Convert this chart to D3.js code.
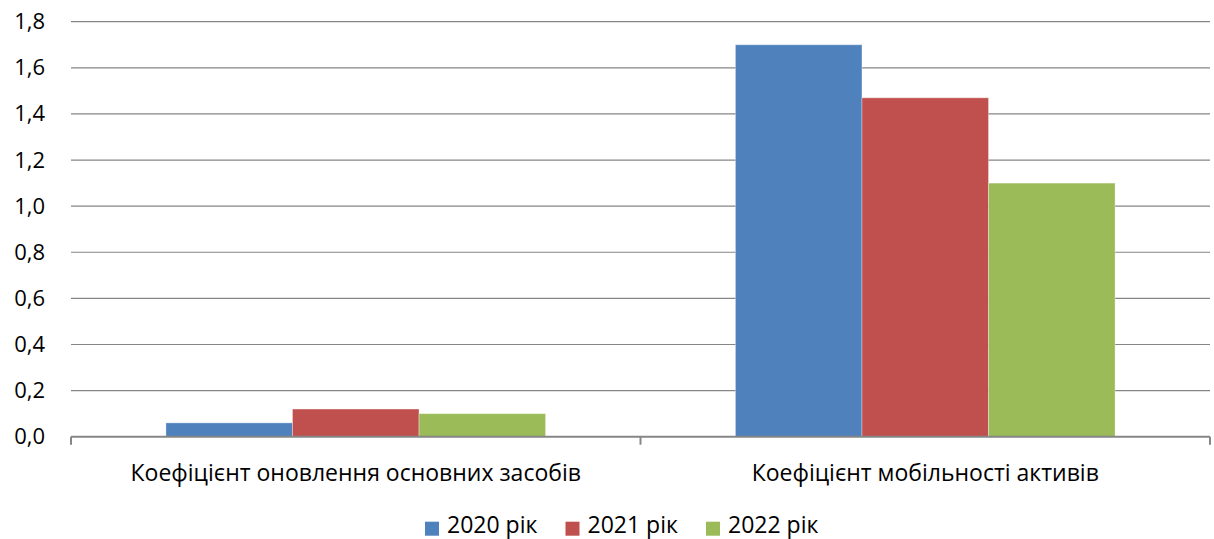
<!DOCTYPE html>
<html>
<head>
<meta charset="utf-8">
<script src="https://cdn.jsdelivr.net/npm/d3@7"></script>
<style>
  html, body { margin: 0; padding: 0; background: #fff; }
  svg { display: block; }
  text { font-family: "Open Sans", sans-serif; fill: #000; }
</style>
</head>
<body>
<svg id="chart" width="1214" height="539"></svg>
<script>
// Indicators and yearly values
const categories = ["Коефіцієнт оновлення основних засобів", "Коефіцієнт мобільності активів"];
const seriesNames = ["2020 рік", "2021 рік", "2022 рік"];
const values2020 = [0.06, 1.70];
const values2021 = [0.12, 1.47];
const values2022 = [0.10, 1.10];
const yTicks = [0, 0.2, 0.4, 0.6, 0.8, 1.0, 1.2, 1.4, 1.6, 1.8];
const colors = ["#4F81BD", "#C0504D", "#9BBB59"];

const seriesValues = [values2020, values2021, values2022];
const rows = categories.map((c, i) => ({
  category: c,
  bars: seriesNames.map((s, j) => ({ series: s, value: seriesValues[j][i], color: colors[j] }))
}));

const svg = d3.select("#chart");
const plot = { left: 71, right: 1210, top: 21.7, bottom: 436.7 };

const y = d3.scaleLinear().domain([0, 1.8]).range([plot.bottom, plot.top]);
const x0 = d3.scaleBand().domain(categories).range([plot.left, plot.right]).padding(0);
// bars fill 3 of 4.5 units per category (gap width 150%)
const groupW = x0.bandwidth() * 3 / 4.5;
const x1 = d3.scaleBand().domain(seriesNames).range([0, groupW]).padding(0);
const groupOffset = (x0.bandwidth() - groupW) / 2;

// horizontal gridlines
svg.append("g")
  .selectAll("line")
  .data(yTicks.filter(t => t > 0))
  .join("line")
  .attr("x1", plot.left).attr("x2", plot.right)
  .attr("y1", d => y(d)).attr("y2", d => y(d))
  .attr("stroke", "#868686").attr("stroke-width", 1.2);

// y axis labels
const yAxis = d3.axisLeft(y)
  .tickValues(yTicks)
  .tickSize(0)
  .tickPadding(26)
  .tickFormat(d => d3.format(".1f")(d).replace(".", ","));
const gy = svg.append("g").attr("transform", `translate(${plot.left},0)`).call(yAxis);
gy.select(".domain").remove();
gy.selectAll("text").style("font-size", "22px").style("font-family", "'Open Sans', sans-serif").attr("fill", "#000");

// bars
const groups = svg.append("g")
  .selectAll("g")
  .data(rows)
  .join("g")
  .attr("transform", d => `translate(${x0(d.category) + groupOffset},0)`);

groups.selectAll("rect")
  .data(d => d.bars)
  .join("rect")
  .attr("x", d => x1(d.series))
  .attr("width", x1.bandwidth())
  .attr("y", d => y(d.value))
  .attr("height", d => y(0) - y(d.value))
  .attr("fill", d => d.color)
  .attr("stroke", "#ffffff")
  .attr("stroke-opacity", 0.35)
  .attr("stroke-width", 1);

// category axis
const xAxis = d3.axisBottom(x0).tickSize(0).tickPadding(28);
const gx = svg.append("g").attr("transform", `translate(0,${plot.bottom})`).call(xAxis);
gx.select(".domain").attr("stroke", "#868686").attr("stroke-width", 2).attr("d", `M${plot.left},0H${plot.right}`);
gx.selectAll("text").style("font-size", "23px").style("font-family", "'Open Sans', sans-serif").attr("fill", "#000");

// category boundary ticks
const boundaries = [plot.left].concat(categories.map(c => x0(c) + x0.bandwidth()));
gx.append("g").selectAll("line")
  .data(boundaries)
  .join("line")
  .attr("x1", d => d).attr("x2", d => d)
  .attr("y1", 0).attr("y2", 8)
  .attr("stroke", "#868686").attr("stroke-width", 2);

// legend
const legend = svg.append("g").attr("transform", "translate(425,521.7)");
const items = legend.selectAll("g")
  .data(seriesNames)
  .join("g")
  .attr("transform", (d, i) => `translate(${i * 140.5},0)`);
items.append("rect")
  .attr("width", 14).attr("height", 14)
  .attr("fill", (d, i) => colors[i]);
items.append("text")
  .attr("x", 22).attr("y", 11.5)
  .style("font-size", "23px")
  .text(d => d);
</script>
</body>
</html>
